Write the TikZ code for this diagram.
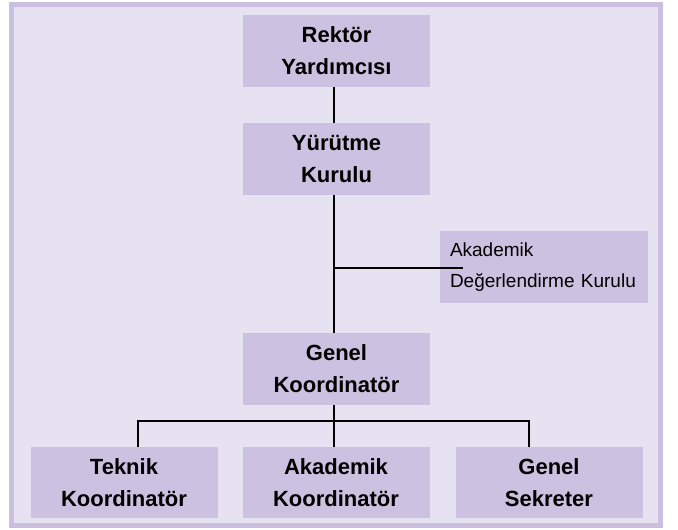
\documentclass[tikz,border=0pt]{standalone}
\usepackage{fontspec}
\setmainfont{Liberation Sans}
\definecolor{frameborder}{RGB}{203,191,223}
\definecolor{framebg}{RGB}{231,226,241}
\definecolor{boxfill}{RGB}{204,193,224}
\begin{document}
\begin{tikzpicture}[x=1pt,y=-1pt,
  orgbox/.style={rectangle, fill=boxfill, draw=none, minimum width=187pt, minimum height=72pt,
    inner sep=0pt, align=center, font=\bfseries\fontsize{22}{32}\selectfont},
  sidebox/.style={rectangle, fill=boxfill, draw=none, minimum width=208pt, minimum height=72pt,
    text width=188pt, inner xsep=10pt, inner ysep=0pt, align=left, font=\fontsize{19}{31}\selectfont},
  conn/.style={draw=black, line width=1.3pt}]
\useasboundingbox (0,0) rectangle (678,530);
\draw[line width=5pt, draw=frameborder, fill=framebg] (11.5,4.5) rectangle (660.5,525.5);
\node[orgbox] (rek) at (336.5,51) {Rektör\\Yardımcısı};
\node[orgbox] (yur) at (336.5,159) {Yürütme\\Kurulu};
\node[orgbox] (gen) at (336.5,369) {Genel\\Koordinatör};
\node[sidebox] (adk) at (544,267) {Akademik\\Değerlendirme Kurulu};
\node[orgbox, minimum height=71pt] (tek) at (124,482.5) {Teknik\\Koordinatör};
\node[orgbox, minimum height=71pt] (aka) at (336,482.5) {Akademik\\Koordinatör};
\node[orgbox, minimum height=71pt] (sek) at (549,482.5) {Genel\\Sekreter};
\coordinate (spine) at (334,0);
\coordinate (branch) at (334,268);
\coordinate (branchend) at (463,268);
\coordinate (bus) at (334,421);
\coordinate (dropl) at (138,421);
\coordinate (dropr) at (529,421);
\draw[conn] (spine |- rek.south) -- (spine |- yur.north);
\draw[conn] (spine |- yur.south) -- (spine |- gen.north);
\draw[conn] (branch) -- (branchend);
\draw[conn] (spine |- gen.south) -- (spine |- aka.north);
\draw[conn] (dropl |- tek.north) -- (dropl) -- (dropr) -- (dropr |- sek.north);
\end{tikzpicture}
\end{document}
